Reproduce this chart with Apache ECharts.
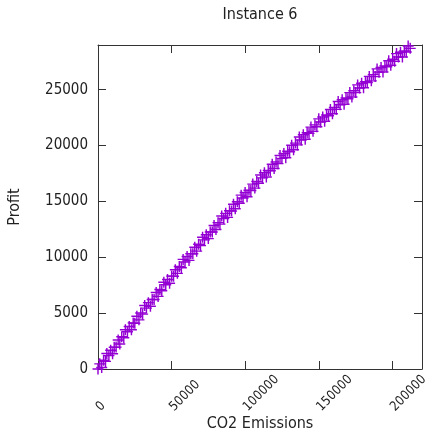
<!DOCTYPE html>
<html>
<head>
<meta charset="utf-8">
<script src="https://cdn.jsdelivr.net/npm/echarts@6/dist/echarts.min.js"></script>
<style>
  html, body { margin: 0; padding: 0; background: #fff; }
  #app { width: 430px; height: 429px; }
</style>
</head>
<body>
<div id="app"></div>
<script>
var titleText = 'Instance 6';
var xName = 'CO2 Emissions';
var yName = 'Profit';
var pointColor = '#9400d3';

// CO2 emissions (x) and profit (y)
var emissions = [
  0, 1200, 2500, 3800, 5100, 6000, 7400, 8600, 9900, 11000,
  12300, 13700, 14800, 16100, 17500, 18600, 20000, 21200, 22700, 23900,
  25000, 26400, 27800, 29000, 30300, 31700, 32900, 34200, 35600, 36800,
  38100, 39500, 40800, 42000, 43300, 44700, 46000, 47200, 48600, 50000,
  51300, 52500, 53900, 55200, 56600, 57800, 59100, 60500, 61800, 63000,
  64400, 65700, 67000, 68300, 69600, 71000, 72300, 73500, 74900, 76200,
  77600, 78800, 80100, 81500, 82800, 84000, 85400, 86700, 88000, 89300,
  90700, 92000, 93200, 94600, 95900, 97200, 98500, 99900, 101200, 102500,
  103800, 105100, 106500, 107800, 109000, 110400, 111700, 113000, 114300, 115600,
  117000, 118300, 119600, 120900, 122200, 123600, 124900, 126200, 127500, 128800,
  130100, 131500, 132800, 134100, 135400, 136700, 138000, 139400, 140700, 142000,
  143300, 144600, 146000, 147300, 148600, 149900, 151200, 152600, 153900, 155200,
  156500, 157800, 159200, 160500, 161800, 163100, 164400, 165800, 167100, 168400,
  169700, 171000, 172400, 173700, 175000, 176300, 177600, 179000, 180300, 181600,
  182900, 184200, 185600, 186900, 188200, 189500, 190800, 192200, 193500, 194800,
  196100, 197400, 198800, 200100, 201400, 202700, 204000, 205400, 206700, 208000,
  209300, 210600, 212000
];
var profit = [
  0, 460, 134, 780, 680, 1390, 1200, 1680, 1360, 1950,
  1960, 2600, 2240, 2880, 2790, 3520, 3330, 3810, 3510, 4120,
  4090, 4720, 4400, 5020, 4910, 5690, 5450, 5940, 5620, 6220,
  6220, 6840, 6500, 7110, 7000, 7770, 7540, 8010, 7680, 8310,
  8300, 8890, 8560, 9180, 9070, 9810, 9580, 10070, 9720, 10310,
  10310, 10900, 10550, 11160, 11040, 11800, 11560, 12020, 11670, 12270,
  12270, 12840, 12480, 13100, 12970, 13700, 13470, 13930, 13570, 14160,
  14150, 14740, 14350, 14970, 14830, 15560, 15310, 15790, 15420, 16000,
  15970, 16550, 16190, 16790, 16630, 17370, 17110, 17560, 17190, 17770,
  17740, 18320, 17940, 18530, 18380, 19110, 18850, 19290, 18910, 19490,
  19440, 20020, 19630, 20220, 20060, 20770, 20500, 20960, 20570, 21140,
  21090, 21650, 21270, 21850, 21680, 22390, 22110, 22560, 22170, 22730,
  22670, 23230, 22840, 23410, 23240, 23940, 23660, 24100, 23700, 24260,
  24190, 24740, 24350, 24910, 24740, 25430, 25150, 25580, 25170, 25720,
  25650, 26190, 25790, 26350, 26170, 26860, 26570, 26990, 26580, 27130,
  27050, 27590, 27180, 27730, 27550, 28230, 27930, 28350, 27930, 28470,
  28380, 28910, 28700
];

var points = [];
for (var i = 0; i < emissions.length; i++) {
  points.push([emissions[i], profit[i]]);
}

var fontFamily = '"DejaVu Sans Condensed", "DejaVu Sans", sans-serif';
var lineColor = '#333';
var plusPath = 'path://M4.35,0 L5.65,0 L5.65,4.35 L10,4.35 L10,5.65 L5.65,5.65 L5.65,10 L4.35,10 L4.35,5.65 L0,5.65 L0,4.35 L4.35,4.35 Z';

function plainNumber(v) {
  return String(v);
}

var myChart = echarts.init(document.getElementById('app'));

myChart.setOption({
  backgroundColor: '#fff',
  animation: false,
  textStyle: { fontFamily: fontFamily },
  title: {
    text: titleText,
    left: 260,
    top: 7,
    padding: 0,
    textAlign: 'center',
    textStyle: { fontFamily: fontFamily, fontSize: 16, fontWeight: 'normal', color: '#222' }
  },
  grid: { left: 98, right: 8, top: 45, bottom: 60, outerBoundsMode: 'none' },
  xAxis: [
    {
      type: 'value',
      min: 0,
      max: 220000,
      interval: 50000,
      name: xName,
      nameLocation: 'middle',
      nameGap: 47,
      nameMoveOverlap: false,
      nameTextStyle: { fontFamily: fontFamily, fontSize: 16, color: '#222' },
      axisLine: { show: true, onZero: false, lineStyle: { color: lineColor, width: 1 } },
      axisTick: { show: true, inside: true, length: 8, lineStyle: { color: lineColor } },
      axisLabel: {
        rotate: 45,
        align: 'left',
        verticalAlign: 'middle',
        margin: 40,
        showMaxLabel: false,
        formatter: plainNumber,
        fontFamily: fontFamily,
        fontSize: 13,
        color: '#222'
      },
      splitLine: { show: false }
    },
    {
      type: 'value',
      position: 'top',
      min: 0,
      max: 220000,
      interval: 50000,
      axisLine: { show: true, onZero: false, lineStyle: { color: lineColor, width: 1 } },
      axisTick: { show: true, inside: true, length: 8, lineStyle: { color: lineColor } },
      axisLabel: { show: false },
      splitLine: { show: false }
    }
  ],
  yAxis: [
    {
      type: 'value',
      min: 0,
      max: 29000,
      interval: 5000,
      name: yName,
      nameLocation: 'middle',
      nameGap: 75,
      nameRotate: 90,
      nameMoveOverlap: false,
      nameTextStyle: { fontFamily: fontFamily, fontSize: 16, color: '#222' },
      axisLine: { show: true, onZero: false, lineStyle: { color: lineColor, width: 1 } },
      axisTick: { show: true, inside: true, length: 8, lineStyle: { color: lineColor } },
      axisLabel: {
        margin: 10,
        showMaxLabel: false,
        formatter: plainNumber,
        fontFamily: fontFamily,
        fontSize: 15,
        color: '#222'
      },
      splitLine: { show: false }
    },
    {
      type: 'value',
      position: 'right',
      min: 0,
      max: 29000,
      interval: 5000,
      axisLine: { show: true, onZero: false, lineStyle: { color: lineColor, width: 1 } },
      axisTick: { show: true, inside: true, length: 8, lineStyle: { color: lineColor } },
      axisLabel: { show: false },
      splitLine: { show: false }
    }
  ],
  series: [
    {
      name: 'Instance 6',
      type: 'scatter',
      xAxisIndex: 0,
      yAxisIndex: 0,
      data: points,
      symbol: plusPath,
      symbolSize: 11,
      itemStyle: { color: pointColor, opacity: 1 },
      clip: false
    }
  ]
});
</script>
</body>
</html>
